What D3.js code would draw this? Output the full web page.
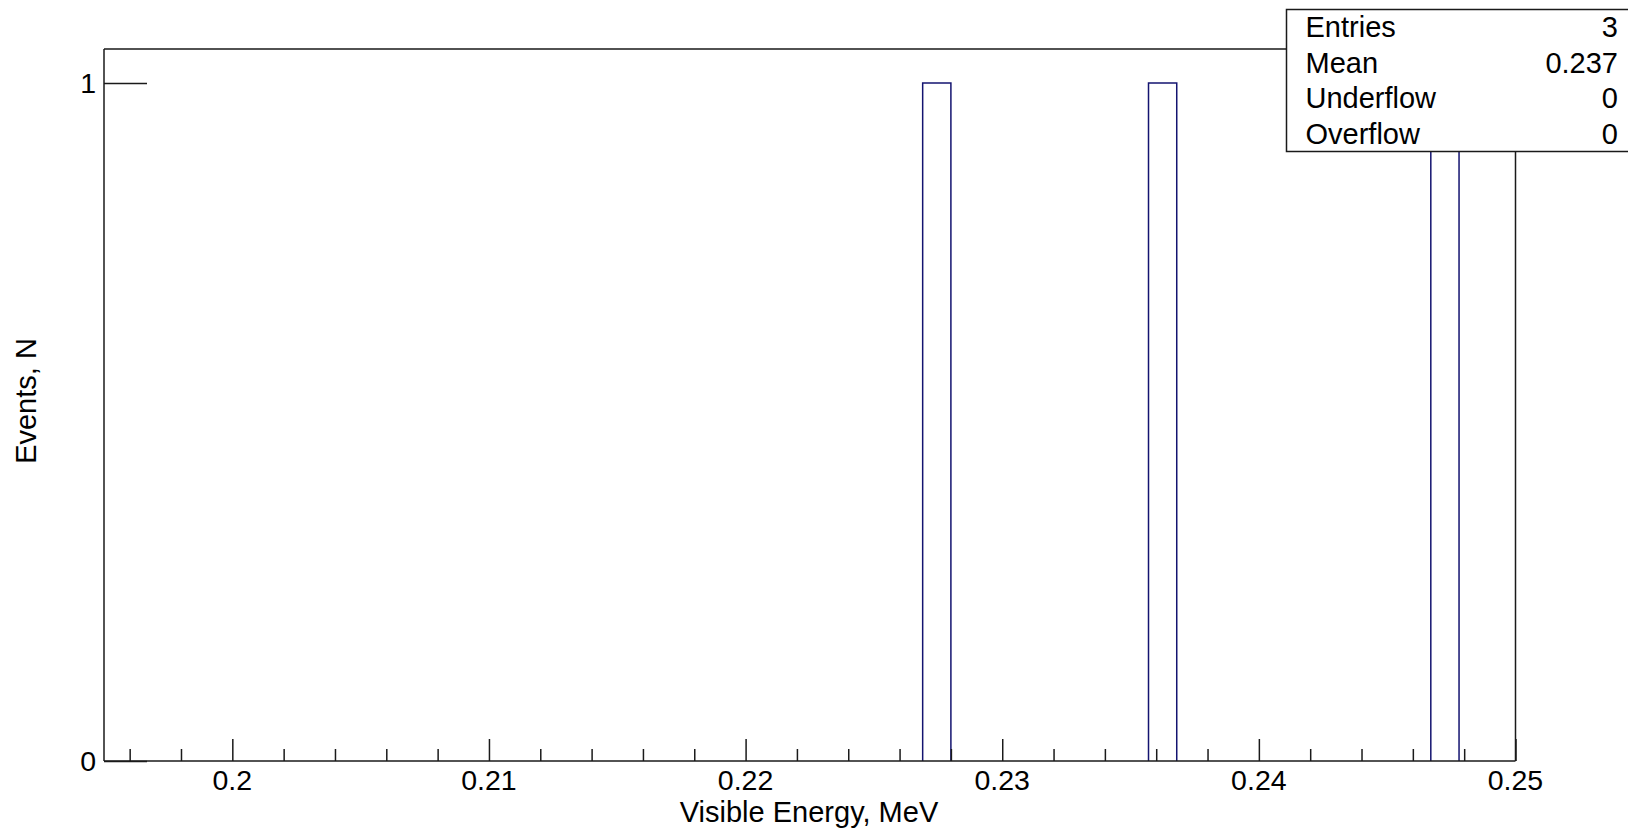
<!DOCTYPE html>
<html>
<head>
<meta charset="utf-8">
<script src="https://cdn.jsdelivr.net/npm/d3@7"></script>
<style>
  html, body { margin: 0; padding: 0; background: #fff; }
  svg { display: block; font-family: "Liberation Sans", Arial, Helvetica, sans-serif; }
</style>
</head>
<body>
<svg id="chart" width="1628" height="829"></svg>
<script>
// ---- data ----
const xDomain = [0.195, 0.25];
const yDomain = [0, 1.05];
const binWidth = 0.0011;
const binLows = [0.2269, 0.2357, 0.2467];
const binCounts = [1, 1, 1];
const xMajorTicks = [0.2, 0.21, 0.22, 0.23, 0.24, 0.25];
const xTickLabels = ["0.2", "0.21", "0.22", "0.23", "0.24", "0.25"];
const xMinorTicks = [0.196, 0.198, 0.202, 0.204, 0.206, 0.208, 0.212, 0.214, 0.216, 0.218,
                     0.222, 0.224, 0.226, 0.228, 0.232, 0.234, 0.236, 0.238,
                     0.242, 0.244, 0.246, 0.248];
const yTicks = [0, 1];
const yTickLabels = ["0", "1"];
const statNames = ["Entries", "Mean", "Underflow", "Overflow"];
const statValues = ["3", "0.237", "0", "0"];
const xTitle = "Visible Energy, MeV";
const yTitle = "Events, N";

// ---- layout ----
const L = 104, R = 1515.5, T = 49, B = 761;
const svg = d3.select("#chart");
const x = d3.scaleLinear().domain(xDomain).range([L, R]);
const y = d3.scaleLinear().domain(yDomain).range([B, T]);
const axisColor = "#1a1a1a";
const histColor = "#141470";

// frame (top and right)
svg.append("path")
  .attr("d", `M${L},${T} H${R} V${B}`)
  .attr("fill", "none").attr("stroke", axisColor).attr("stroke-width", 1.5);

// histogram bars (outline)
svg.append("g").selectAll("path").data(binLows).join("path")
  .attr("d", (d, i) => {
    const x0 = x(d), x1 = x(d + binWidth), y0 = y(0), y1 = y(binCounts[i]);
    return `M${x0},${y0} V${y1} H${x1} V${y0}`;
  })
  .attr("fill", "none").attr("stroke", histColor).attr("stroke-width", 1.5);

// x axis
const xAxisMajor = d3.axisTop(x).tickValues(xMajorTicks).tickSize(22).tickFormat("").tickSizeOuter(0);
const gx = svg.append("g").attr("transform", `translate(0,${B})`).call(xAxisMajor);
gx.select(".domain").remove();
gx.selectAll(".tick line").attr("stroke", axisColor).attr("stroke-width", 1.5);
const xAxisMinor = d3.axisTop(x).tickValues(xMinorTicks).tickSize(12).tickFormat("").tickSizeOuter(0);
const gxm = svg.append("g").attr("transform", `translate(0,${B})`).call(xAxisMinor);
gxm.select(".domain").remove();
gxm.selectAll(".tick line").attr("stroke", axisColor).attr("stroke-width", 1.5);
svg.append("line").attr("x1", L).attr("x2", R).attr("y1", B).attr("y2", B)
  .attr("stroke", axisColor).attr("stroke-width", 1.5);

svg.append("g").selectAll("text").data(xMajorTicks).join("text")
  .attr("x", d => x(d)).attr("y", 790)
  .attr("text-anchor", "middle")
  .attr("font-size", 28.5).attr("fill", "#000")
  .text((d, i) => xTickLabels[i]);

// y axis
const yAxis = d3.axisRight(y).tickValues(yTicks).tickSize(43).tickFormat("").tickSizeOuter(0);
const gy = svg.append("g").attr("transform", `translate(${L},0)`).call(yAxis);
gy.select(".domain").remove();
gy.selectAll(".tick line").attr("stroke", axisColor).attr("stroke-width", 1.5);
svg.append("line").attr("x1", L).attr("x2", L).attr("y1", T).attr("y2", B)
  .attr("stroke", axisColor).attr("stroke-width", 1.5);

svg.append("g").selectAll("text").data(yTicks).join("text")
  .attr("x", L - 8).attr("y", d => y(d) + 10)
  .attr("text-anchor", "end")
  .attr("font-size", 28.5).attr("fill", "#000")
  .text((d, i) => yTickLabels[i]);

// axis titles
svg.append("text")
  .attr("x", 809).attr("y", 822)
  .attr("text-anchor", "middle")
  .attr("font-size", 29).attr("fill", "#000")
  .text(xTitle);

svg.append("text")
  .attr("transform", `translate(36,401) rotate(-90)`)
  .attr("text-anchor", "middle")
  .attr("font-size", 29).attr("fill", "#000")
  .text(yTitle);

// stats box
const sbL = 1286.5, sbT = 9.5, sbB = 151.5, sbR = 1640;
svg.append("rect")
  .attr("x", sbL).attr("y", sbT).attr("width", sbR - sbL).attr("height", sbB - sbT)
  .attr("fill", "#fff").attr("stroke", axisColor).attr("stroke-width", 1.5);
const rowH = (sbB - sbT) / statNames.length;
const sg = svg.append("g");
sg.selectAll("text.name").data(statNames).join("text")
  .attr("class", "name")
  .attr("x", sbL + 19).attr("y", (d, i) => sbT + rowH * (i + 0.5) + 10)
  .attr("font-size", 29).attr("fill", "#000")
  .text(d => d);
sg.selectAll("text.val").data(statValues).join("text")
  .attr("class", "val")
  .attr("x", 1618).attr("y", (d, i) => sbT + rowH * (i + 0.5) + 10)
  .attr("text-anchor", "end")
  .attr("font-size", 29).attr("fill", "#000")
  .text(d => d);
</script>
</body>
</html>
